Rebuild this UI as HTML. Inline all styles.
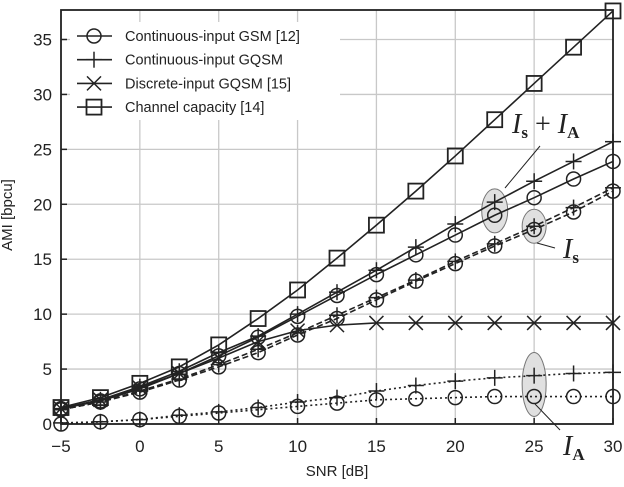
<!DOCTYPE html>
<html><head><meta charset="utf-8"><style>
body{margin:0;background:#fff}
svg text{font-family:"Liberation Sans",sans-serif;fill:#222}
</style></head><body>
<svg id="c" width="624" height="482" viewBox="0 0 624 482" xmlns="http://www.w3.org/2000/svg"></svg>
<script>
const snr=[-5,-2.5,0,2.5,5,7.5,10,12.5,15,17.5,20,22.5,25,27.5,30];
const capacity=[1.5,2.4,3.7,5.2,7.2,9.6,12.2,15.1,18.1,21.2,24.4,27.7,31.0,34.3,37.6];
const gqsmTotal=[1.4,2.2,3.4,4.8,6.5,8.0,10.0,12.0,14.0,16.1,18.2,20.2,22.1,23.9,25.7];
const gsmTotal=[1.4,2.1,3.2,4.6,6.2,7.9,9.8,11.7,13.6,15.4,17.2,19.0,20.6,22.3,23.9];
const discreteGqsm=[1.4,2.2,3.3,4.6,6.0,7.5,8.5,9.0,9.2,9.2,9.2,9.2,9.2,9.2,9.2];
const gqsmIs=[1.3,2.0,3.0,4.1,5.4,6.8,8.3,9.9,11.5,13.1,14.8,16.4,18.0,19.7,21.5];
const gsmIs=[1.3,2.0,2.9,4.0,5.2,6.5,8.1,9.6,11.3,13.0,14.6,16.2,17.7,19.3,21.2];
const gqsmIa=[0.1,0.2,0.4,0.8,1.1,1.5,2.0,2.4,3.0,3.5,3.9,4.2,4.4,4.6,4.7];
const gsmIa=[0.0,0.2,0.4,0.7,1.0,1.3,1.6,1.9,2.2,2.3,2.4,2.5,2.5,2.5,2.5];
const xTicks=[-5,0,5,10,15,20,25,30];
const yTicks=[0,5,10,15,20,25,30,35];
const legendLabels=["Continuous-input GSM [12]","Continuous-input GQSM","Discrete-input GQSM [15]","Channel capacity [14]"];

const L=61,R=613,T=10,B=424;
const X=v=>L+(v+5)/35*(R-L);
const Y=v=>B-v/35*(B-39.5);
const svg=document.getElementById('c');
const NS='http://www.w3.org/2000/svg';
function mk(tag,attrs,parent){const e=document.createElementNS(NS,tag);for(const k in attrs)e.setAttribute(k,attrs[k]);(parent||svg).appendChild(e);return e;}

// grid
const grid=mk('g',{});


xTicks.forEach(v=>mk('line',{x1:X(v),x2:X(v),y1:T,y2:B,stroke:'#c8c8c8','stroke-width':1.3},grid));
yTicks.forEach(v=>mk('line',{x1:L,x2:R,y1:Y(v),y2:Y(v),stroke:'#c8c8c8','stroke-width':1.3},grid));

// ticks & labels
xTicks.forEach(v=>{
  mk('line',{x1:X(v),x2:X(v),y1:B,y2:B-6,stroke:'#222','stroke-width':1.5});
  const t=mk('text',{x:X(v),y:452,'font-size':17,'text-anchor':'middle'});
  t.textContent=v<0?'\u2212'+(-v):v;
  
  
});
yTicks.forEach(v=>{
  mk('line',{x1:L,x2:L+6,y1:Y(v),y2:Y(v),stroke:'#222','stroke-width':1.5});
  const t=mk('text',{x:52,y:Y(v)+6,'font-size':17,'text-anchor':'end'});
  t.textContent=v;
  
  
});

// highlight ellipses
[[22.5,19.4,13,22],[25,18,12,17],[25,3.6,12,32]].forEach(e=>{
  const el=mk('ellipse',{cx:X(e[0]),cy:Y(e[1]),rx:e[2],ry:e[3],fill:'#e0e0e0',stroke:'#777','stroke-width':1});
  
  
});

function marker(g,type,x,y){
  if(type==='o')mk('circle',{cx:x,cy:y,r:7,fill:'none',stroke:'#222','stroke-width':1.5},g);
  if(type==='+'){mk('line',{x1:x-8,x2:x+8,y1:y,y2:y,stroke:'#222','stroke-width':1.5},g);mk('line',{x1:x,x2:x,y1:y-8,y2:y+8,stroke:'#222','stroke-width':1.5},g);}
  if(type==='x'){mk('line',{x1:x-7,x2:x+7,y1:y-7,y2:y+7,stroke:'#222','stroke-width':1.5},g);mk('line',{x1:x-7,x2:x+7,y1:y+7,y2:y-7,stroke:'#222','stroke-width':1.5},g);}
  if(type==='s')mk('rect',{x:x-7.5,y:y-7.5,width:15,height:15,fill:'none',stroke:'#222','stroke-width':1.8},g);
}
function series(name,data,type,dash){
  const g=mk('g',{});
  
  
  const pts=data.map((v,i)=>X(snr[i])+','+Y(v)).join(' ');
  const a={points:pts,fill:'none',stroke:'#222','stroke-width':1.6};
  if(dash)a['stroke-dasharray']=dash;
  mk('polyline',a,g);
  data.forEach((v,i)=>marker(g,type,X(snr[i]),Y(v)));
}
series('capacity-series',capacity,'s');
series('gqsm-total-series',gqsmTotal,'+');
series('gsm-total-series',gsmTotal,'o');
series('discrete-gqsm-series',discreteGqsm,'x');
series('gqsm-is-series',gqsmIs,'+','6,3');
series('gsm-is-series',gsmIs,'o','6,3');
series('gqsm-ia-series',gqsmIa,'+','2,3');
series('gsm-ia-series',gsmIa,'o','2,3');

// axes box
const ax=mk('rect',{x:L,y:T,width:R-L,height:B-T,fill:'none',stroke:'#222','stroke-width':1.8});



// legend
const lg=mk('g',{});


mk('rect',{x:70,y:22,width:270,height:98,fill:'#fff'},lg);
['o','+','x','s'].forEach((m,i)=>{
  const y=36+i*23.7;
  const e=mk('g',{},lg);
  
  
  mk('line',{x1:77,x2:112,y1:y,y2:y,stroke:'#222','stroke-width':1.6},e);
  marker(e,m,94,y);
  const t=mk('text',{x:125,y:y+5,'font-size':14.5},e);
  t.textContent=legendLabels[i];
});

// axis titles
const xt=mk('text',{x:337,y:476,'font-size':15,'text-anchor':'middle'});
xt.textContent='SNR [dB]';


const yt=mk('text',{x:0,y:0,'font-size':15,'text-anchor':'middle',transform:'translate(12,215) rotate(-90)'});
yt.textContent='AMI [bpcu]';



// annotations
function ann(name,x,y,main,sub,extra){
  const t=mk('text',{x:x,y:y,'font-size':28,'font-style':'italic'});
  t.setAttribute('style','font-family:"Liberation Serif",serif');
  
  
  t.innerHTML=main+'<tspan font-size="17" font-style="normal" font-weight="bold" dy="5">'+sub+'</tspan>'+(extra||'');
}
mk('line',{x1:540,y1:146,x2:505,y2:188,stroke:'#222','stroke-width':1});
mk('line',{x1:537,y1:243,x2:555,y2:248,stroke:'#222','stroke-width':1});
mk('line',{x1:535,y1:404,x2:560,y2:430,stroke:'#222','stroke-width':1});
ann('is-plus-ia-label',512,133,'I','s','<tspan dy="-5" font-style="normal" font-size="28"> + </tspan><tspan font-size="28">I</tspan><tspan font-size="17" font-style="normal" font-weight="bold" dy="5">A</tspan>');
ann('is-label',563,258,'I','s');
ann('ia-label',563,455,'I','A');
</script>
</body></html>
